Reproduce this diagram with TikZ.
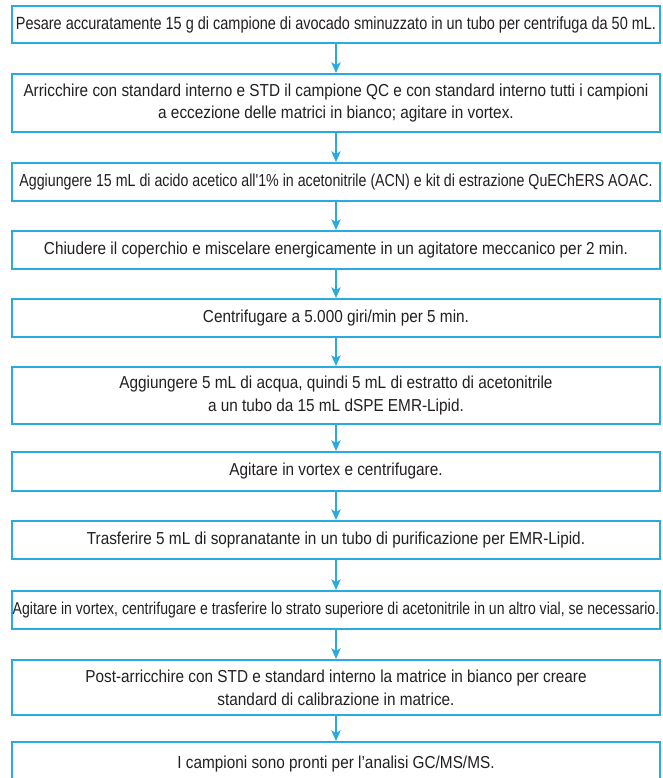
\documentclass[tikz,border=0pt]{standalone}
\usepackage{fontspec}
\setmainfont[FakeStretch=0.885]{Liberation Sans}
\newfontfamily\tightfont[FakeStretch=0.82]{Liberation Sans}
\usetikzlibrary{arrows.meta}
\definecolor{stepblue}{RGB}{41,171,226}
\definecolor{steptext}{RGB}{35,31,32}
\tikzset{
  stepbox/.style={draw=stepblue, line width=1.5pt, minimum width=486pt, inner sep=0pt,
    align=center, text=steptext, font=\fontsize{13}{17}\selectfont},
  flow/.style={draw=stepblue, line width=1.1pt, -{Stealth[length=8pt,width=7pt,inset=2pt]}}
}
\begin{document}
\begin{tikzpicture}[x=0.75pt,y=-0.75pt]
\useasboundingbox (0,0) rectangle (662,778);
\node[stepbox, minimum height=27.75pt, font=\tightfont\fontsize{13.25}{17}\selectfont] (s1) at (336,24.5) {Pesare accuratamente 15 g di campione di avocado sminuzzato in un tubo per centrifuga da 50 mL.};
\node[stepbox, minimum height=43.5pt] (s2) at (336,103) {Arricchire con standard interno e STD il campione QC e con standard interno tutti i campioni\\ a eccezione delle matrici in bianco; agitare in vortex.};
\node[stepbox, minimum height=28.5pt, font=\tightfont\fontsize{13}{17}\selectfont] (s3) at (336,182) {Aggiungere 15 mL di acido acetico all'1\% in acetonitrile (ACN) e kit di estrazione QuEChERS AOAC.};
\node[stepbox, minimum height=28.5pt] (s4) at (336,250) {Chiudere il coperchio e miscelare energicamente in un agitatore meccanico per 2 min.};
\node[stepbox, minimum height=28.5pt] (s5) at (336,318) {Centrifugare a 5.000 giri/min per 5 min.};
\node[stepbox, minimum height=42.75pt] (s6) at (336,395.5) {Aggiungere 5 mL di acqua, quindi 5 mL di estratto di acetonitrile\\ a un tubo da 15 mL dSPE EMR-Lipid.};
\node[stepbox, minimum height=29.25pt] (s7) at (336,471.5) {Agitare in vortex e centrifugare.};
\node[stepbox, minimum height=28.5pt] (s8) at (336,540) {Trasferire 5 mL di sopranatante in un tubo di purificazione per EMR-Lipid.};
\node[stepbox, minimum height=28.5pt, font=\tightfont\fontsize{12.85}{17}\selectfont] (s9) at (336,610) {Agitare in vortex, centrifugare e trasferire lo strato superiore di acetonitrile in un altro vial, se necessario.};
\node[stepbox, minimum height=41.25pt] (s10) at (336,687.5) {Post-arricchire con STD e standard interno la matrice in bianco per creare\\ standard di calibrazione in matrice.};
\node[stepbox, minimum height=33pt] (s11) at (336,764) {I campioni sono pronti per l'analisi GC/MS/MS.};
% frecce tra i passi
\draw[flow] (s1) -- (s2);
\draw[flow] (s2) -- (s3);
\draw[flow] (s3) -- (s4);
\draw[flow] (s4) -- (s5);
\draw[flow] (s5) -- (s6);
\draw[flow] (s6) -- (s7);
\draw[flow] (s7) -- (s8);
\draw[flow] (s8) -- (s9);
\draw[flow] (s9) -- (s10);
\draw[flow] (s10) -- (s11);
\end{tikzpicture}
\end{document}
